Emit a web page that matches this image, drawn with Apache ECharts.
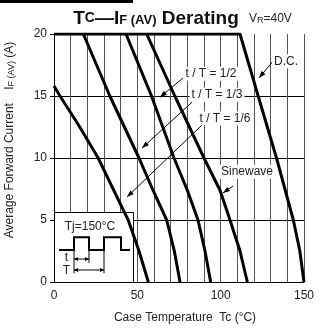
<!DOCTYPE html>
<html><head><meta charset="utf-8">
<script src="https://cdn.jsdelivr.net/npm/echarts@6/dist/echarts.min.js"></script>
<style>html,body{margin:0;padding:0;background:#fff}#c{width:320px;height:329px}</style>
</head><body><div id="c"></div>
<script>
// Data: [case temperature Tc (°C), average forward current IF(AV) (A)]
const curveSixth = [[0,15.8],[3.6,15],[15,12.6],[26.5,10],[41.6,5.8],[44.5,5],[51,2.5],[56.6,0]];
const curveThird = [[17.6,20],[33.5,15],[51,10],[59.4,7.4],[67.6,5],[72.2,2.5],[75.6,0]];
const curveHalf  = [[43.2,20],[58.5,15],[72,10],[80,7.4],[86.4,5],[90.6,2.5],[94,0]];
const curveSine  = [[55.6,20],[72.5,15],[90,10],[99.6,7.4],[105.6,5],[111.6,2.5],[116,0]];
const curveDC    = [[0,20],[111.6,20],[122.5,15],[133.5,10],[143.6,5],[147.5,2.5],[150,0]];
const xTickLabels = [0,50,100,150];
const yTickLabels = [0,5,10,15,20];
const xGridValues = [10,20,30,40,50,60,70,80,90,100,110,120,130,140,150];
const curveLabels = ['t / T = 1/6','t / T = 1/3','t / T = 1/2','Sinewave','D.C.'];
// inset waveform (in chart units)
const waveData = [[3,2.58],[12,2.58],[12,3.6],[21,3.6],[21,2.58],[30,2.58],[30,3.6],[40.2,3.6],[40.2,2.58],[45.6,2.58]];

const font = 'Liberation Sans, Arial, sans-serif';
const chart = echarts.init(document.getElementById('c'));

// annotation layout (chart units)
const annot = [
  {text: curveLabels[2], pos:[94.2,16.8], from:[77.4,16.45], to:[63.6,14.9]},
  {text: curveLabels[1], pos:[97.8,15.1], from:[82.8,14.5], to:[52.8,10.8]},
  {text: curveLabels[0], pos:[102.6,13.2], from:[88.8,12.66], to:[43.8,6.85]},
  {text: curveLabels[3], pos:[115.8,8.9], from:[107.4,7.74], to:[101.4,7.18]},
  {text: curveLabels[4], pos:[139.2,17.8], from:[133.2,18.1], to:[123,16.45]}
];

function curve(name, data){
  return {name, type:'line', data, symbol:'none', smooth:false, z:5,
    lineStyle:{color:'#000', width:3}, silent:true};
}

const option = {
  animation:false,
  backgroundColor:'#fff',
  textStyle:{fontFamily:font},
  grid:{left:54, right:16, top:34, bottom:47},
  title:{
    text:'T{sc|C}—I{sub|F (AV)} Derating',
    left:151, top:4, textAlign:'center',
    textStyle:{fontFamily:font, fontSize:19, fontWeight:'bold', color:'#111',
      rich:{sc:{fontSize:14, fontWeight:'bold', fontFamily:font, color:'#111'},
            sub:{fontSize:13, fontWeight:'bold', fontFamily:font, color:'#111', padding:[3,0,0,0]}}}
  },
  xAxis:{
    type:'value', min:0, max:150, interval:10,
    name:'Case Temperature  Tc (°C)', nameLocation:'middle', nameGap:30,
    nameTextStyle:{fontFamily:font, fontSize:12, color:'#222', padding:[0,0,0,12]},
    axisLine:{show:true, lineStyle:{color:'#000', width:1}},
    axisTick:{show:false},
    axisLabel:{fontFamily:font, fontSize:12, color:'#222', margin:8,
      formatter:v=> xTickLabels.indexOf(v)>=0 ? String(v) : ''},
    splitLine:{show:false}
  },
  yAxis:{
    type:'value', min:0, max:20, interval:5,
    axisLine:{show:true, lineStyle:{color:'#000', width:1}},
    axisTick:{show:true, length:4, lineStyle:{color:'#000'}},
    axisLabel:{fontFamily:font, fontSize:12, color:'#222', margin:7,
      formatter:v=> yTickLabels.indexOf(v)>=0 ? String(v) : ''},
    splitLine:{show:true, showMaxLine:false, lineStyle:{color:'#000', width:1}}
  },
  series:[
    {type:'line', data:[], symbol:'none', z:1, silent:true,
      markLine:{silent:true, z:1, symbol:['none','none'], label:{show:false},
        lineStyle:{color:'#555', width:1, type:'solid'},
        data: xGridValues.map(v=>({xAxis:v}))}
    },
    curve(curveLabels[0], curveSixth),
    curve(curveLabels[1], curveThird),
    curve(curveLabels[2], curveHalf),
    curve(curveLabels[3], curveSine),
    curve(curveLabels[4], curveDC)
  ]
};
chart.setOption(option);

const px = p => chart.convertToPixel({gridIndex:0}, p);
function arrowHead(from, to, len, half, z){
  const a = px(from), b = px(to);
  const dx = b[0]-a[0], dy = b[1]-a[1], L = Math.hypot(dx,dy);
  const ux = dx/L, uy = dy/L;
  const bx = b[0]-ux*len, by = b[1]-uy*len;
  return {type:'polygon', z, silent:true,
    shape:{points:[[b[0],b[1]],[bx-uy*half, by+ux*half],[bx+uy*half, by-ux*half]]},
    style:{fill:'#000'}};
}
function seg(from, to, w, z){
  const a = px(from), b = px(to);
  return {type:'line', z, silent:true, shape:{x1:a[0],y1:a[1],x2:b[0],y2:b[1]}, style:{stroke:'#000', lineWidth:w}};
}
const g = [];
g.push({type:'rect', left:0, top:0, z:10, shape:{width:133, height:3}, style:{fill:'#000'}});
g.push({type:'text', left:249, top:13, z:10, style:{text:'V{sub|R}=40V', font:'12px '+font, fill:'#222',
  rich:{sub:{fontSize:9, fontFamily:font, fill:'#222', padding:[4,0,0,0]}}}});
g.push({type:'text', x:10, y:140, rotation:Math.PI/2, z:10,
  style:{text:'Average Forward Current    I{sub|F (AV)} (A)', font:'12px '+font, fill:'#222',
    align:'center', verticalAlign:'middle',
    rich:{sub:{fontSize:9, fontFamily:font, fill:'#222', padding:[3,0,0,0]}}}});
// inset box
const b0 = px([0,5.65]), b1 = px([47.2,0]);
g.push({type:'rect', z:3, silent:true, shape:{x:Math.round(b0[0])+0.5, y:Math.round(b0[1])+0.5, width:Math.round(b1[0]-b0[0]), height:Math.round(b1[1]-b0[1])},
  style:{fill:'#fff', stroke:'#000', lineWidth:1}});
g.push({type:'polyline', z:4, silent:true, shape:{points:waveData.map(px)}, style:{stroke:'#000', lineWidth:2, fill:null}});
g.push(seg([12,2.58],[12,0.7],1,4), seg([21,2.58],[21,1.55],1,4), seg([30,2.58],[30,0.7],1,4));
g.push(seg([12,1.85],[21,1.85],1,4), arrowHead([16,1.85],[12,1.85],4,2,4), arrowHead([17,1.85],[21,1.85],4,2,4));
g.push(seg([12,0.97],[30,0.97],1,4), arrowHead([20,0.97],[12,0.97],4,2,4), arrowHead([22,0.97],[30,0.97],4,2,4));
const tj = px([21.6,4.5]), tt = px([7.4,1.95]), tT = px([7.4,0.9]);
g.push({type:'text', z:4, x:tj[0], y:tj[1], style:{text:'Tj=150°C', font:'12px '+font, fill:'#222', align:'center', verticalAlign:'middle'}});
g.push({type:'text', z:4, x:tt[0], y:tt[1], style:{text:'t', font:'12px '+font, fill:'#222', align:'center', verticalAlign:'middle'}});
g.push({type:'text', z:4, x:tT[0], y:tT[1], style:{text:'T', font:'12px '+font, fill:'#222', align:'center', verticalAlign:'middle'}});
// curve annotations
annot.forEach(a=>{
  g.push(seg(a.from, a.to, 1, 20));
  g.push(arrowHead(a.from, a.to, 7, 2.5, 20));
  const p = px(a.pos);
  g.push({type:'text', z:30, x:p[0], y:p[1], style:{text:a.text, font:'12px '+font, fill:'#222',
    align:'center', verticalAlign:'middle', backgroundColor:'#fff', padding:[1,2]}});
});
chart.setOption({graphic:g});
</script></body></html>
